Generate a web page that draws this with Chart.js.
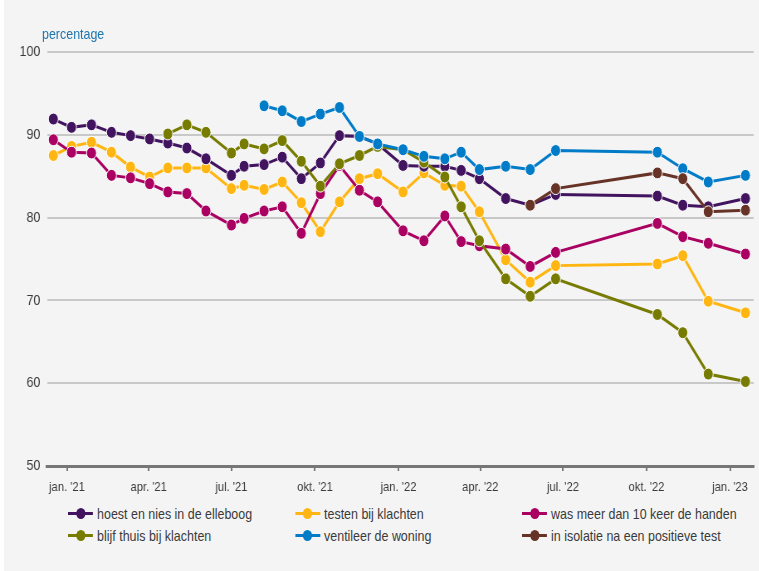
<!DOCTYPE html>
<html>
<head>
<meta charset="utf-8">
<script src="https://cdn.jsdelivr.net/npm/chart.js@4.4.1/dist/chart.umd.min.js"></script>
<style>
    body { margin: 0; background: #fff; font-family: "Liberation Sans", Arial, sans-serif; overflow: hidden; }
    .panel { position: absolute; left: 4px; top: 0; width: 755px; height: 571px; background: #f4f4f4; }
    /* het origineel is horizontaal samengedrukt: zelfde effect via scaleX */
    #myChart { position: absolute; left: 0; top: 0; transform: scaleX(0.83); transform-origin: 0 0; }
    .unit { position: absolute; left: 42px; top: 25px; font-size: 15px; color: #1f75ad; transform: scaleX(0.83); transform-origin: 0 0; }
    .legend { position: absolute; left: 68px; top: 505px; display: grid; grid-template-columns: 273.5px 273.5px 273.5px; row-gap: 5px; transform: scaleX(0.83); transform-origin: 0 0; }
    .item { display: flex; align-items: center; height: 17px; font-size: 15px; color: #3a3a3a; white-space: nowrap; }
    .mark { position: relative; width: 30px; height: 17px; margin-right: 5px; }
    .mark .ln { position: absolute; left: 0; right: 0; top: 7px; height: 3px; }
    .mark .dot { position: absolute; left: 9.5px; top: 3px; width: 11px; height: 11px; border-radius: 50%; }
</style>
</head>
<body>
<div class="panel"></div>
<canvas id="myChart" width="915" height="500"></canvas>
<div class="unit">percentage</div>
<div class="legend"></div>

<script>
const dates = ["2020-12-17", "2021-01-06", "2021-01-28", "2021-02-19", "2021-03-12", "2021-04-02",
    "2021-04-22", "2021-05-13", "2021-06-03", "2021-07-01", "2021-07-15", "2021-08-06",
    "2021-08-26", "2021-09-16", "2021-10-07", "2021-10-28", "2021-11-19", "2021-12-09",
    "2022-01-06", "2022-01-29", "2022-02-21", "2022-03-11", "2022-03-31", "2022-04-29",
    "2022-05-26", "2022-06-23", "2022-10-13", "2022-11-10", "2022-12-08", "2023-01-18"];

const hoest = [91.9, 90.9, 91.2, 90.3, 89.9, 89.5, 89.0, 88.4, 87.1, 85.1,
    86.2, 86.4, 87.3, 84.7, 86.6, 89.9, 89.8, 88.9, 86.3, 86.2,
    86.2, 85.7, 84.7, 82.3, 81.5, 82.8, 82.6, 81.5, 81.3, 82.3];
const testen = [87.5, 88.6, 89.1, 87.9, 86.1, 84.9, 86.0, 86.0, 86.0, 83.5,
    83.9, 83.4, 84.3, 81.8, 78.3, 81.9, 84.7, 85.3, 83.1, 85.4,
    83.9, 83.8, 80.7, 74.9, 72.2, 74.2, 74.4, 75.4, 69.9, 68.5];
const handen = [89.4, 87.9, 87.8, 85.1, 84.8, 84.1, 83.1, 82.9, 80.8, 79.1,
    79.9, 80.8, 81.3, 78.1, 82.9, 86.3, 83.3, 81.9, 78.4, 77.2,
    80.2, 77.1, 76.6, 76.2, 74.1, 75.8, 79.3, 77.7, 76.9, 75.6];
const blijfThuis = [null, null, null, null, null, null, 90.1, 91.2, 90.3, 87.8,
    88.9, 88.3, 89.3, 86.8, 83.8, 86.5, 87.5, 88.6, 88.2, 86.7,
    84.9, 81.3, 77.2, 72.6, 70.5, 72.6, 68.3, 66.1, 61.1, 60.2];
const ventileer = [null, null, null, null, null, null, null, null, null, null,
    null, 93.5, 92.9, 91.6, 92.5, 93.3, 89.8, 88.9, 88.2, 87.4,
    87.1, 87.9, 85.8, 86.2, 85.8, 88.1, 87.9, 85.9, 84.3, 85.1];
const isolatie = [null, null, null, null, null, null, null, null, null, null,
    null, null, null, null, null, null, null, null, null, null,
    null, null, null, null, 81.5, 83.5, 85.4, 84.7, 80.7, 80.9];

const tickDates = ["2021-01-01", "2021-04-01", "2021-07-01", "2021-10-01", "2022-01-01",
    "2022-04-01", "2022-07-01", "2022-10-01", "2023-01-01"];
const tickLabels = ["jan. '21", "apr. '21", "jul. '21", "okt. '21", "jan. '22",
    "apr. '22", "jul. '22", "okt. '22", "jan. '23"];

const yTicks = [50, 60, 70, 80, 90, 100];

// dagen sinds 1 jan 2021
const dayZero = Date.UTC(2021, 0, 1);
function toDay(s) {
    let p = s.split("-").map(Number);
    return (Date.UTC(p[0], p[1] - 1, p[2]) - dayZero) / 86400000;
}

function serie(label, values, color, order) {
    return {
        label: label,
        data: dates.map((d, i) => ({x: toDay(d), y: values[i]})),
        borderColor: color,
        backgroundColor: color,
        borderWidth: 3,
        pointRadius: 6,
        pointBorderColor: "#ffffff",
        pointBorderWidth: 1,
        order: order
    };
}

const datasets = [
    serie("hoest en nies in de elleboog", hoest, "#42145f", 4),
    serie("testen bij klachten", testen, "#ffb612", 5),
    serie("was meer dan 10 keer de handen", handen, "#a90061", 3),
    serie("blijf thuis bij klachten", blijfThuis, "#777c00", 2),
    serie("ventileer de woning", ventileer, "#007bc7", 1),
    serie("in isolatie na een positieve test", isolatie, "#673327", 0)
];

const font = "'Liberation Sans', Arial, sans-serif";

const ctx = document.getElementById("myChart").getContext("2d");
const myChart = new Chart(ctx, {
    type: "line",
    data: {datasets: datasets},
    options: {
        responsive: false,
        animation: false,
        devicePixelRatio: 1,
        layout: {padding: {top: 52, right: 0, left: 0, bottom: 0}},
        plugins: {legend: {display: false}, tooltip: {enabled: false}},
        scales: {
            x: {
                type: "linear",
                min: toDay("2020-12-10"),
                max: toDay("2023-01-27"),
                afterBuildTicks: (scale) => {
                    scale.ticks = tickDates.map(d => ({value: toDay(d)}));
                },
                afterFit: (scale) => {
                    scale.height = 34;
                    scale.paddingLeft = 0;
                    scale.paddingRight = 0;
                },
                ticks: {
                    autoSkip: false,
                    maxRotation: 0,
                    padding: 8,
                    color: "#3a3a3a",
                    font: {family: font, size: 13.5},
                    callback: (value, index) => tickLabels[index]
                },
                grid: {
                    drawOnChartArea: false,
                    drawTicks: true,
                    tickLength: 5,
                    color: "#767676",
                    lineWidth: 2
                },
                border: {display: true, color: "#767676", width: 3}
            },
            y: {
                min: 50,
                max: 100,
                afterBuildTicks: (scale) => {
                    scale.ticks = yTicks.map(v => ({value: v}));
                },
                afterFit: (scale) => {
                    scale.width = 56.6;
                    scale.paddingTop = 0;
                    scale.paddingBottom = 0;
                },
                ticks: {
                    padding: 8,
                    color: "#3a3a3a",
                    font: {family: font, size: 15}
                },
                grid: {drawTicks: false, color: "#c8c8c8", lineWidth: 2},
                border: {display: false}
            }
        }
    }
});

// legende in drie kolommen
const legend = document.querySelector(".legend");
datasets.forEach(ds => {
    let item = document.createElement("div");
    item.className = "item";
    item.innerHTML = '<span class="mark"><span class="ln" style="background:' + ds.borderColor +
        '"></span><span class="dot" style="background:' + ds.borderColor + '"></span></span>' + ds.label;
    legend.appendChild(item);
});
</script>
</body>
</html>
